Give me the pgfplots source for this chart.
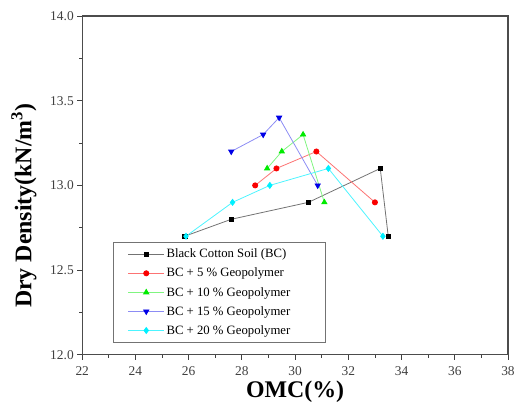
\documentclass[border=0pt]{standalone}
\usepackage{fontspec}
\setmainfont{Liberation Serif}
\usepackage{pgfplots}
\pgfplotsset{compat=1.18}
\definecolor{pgreen}{RGB}{0,235,0}
\definecolor{pblue}{RGB}{0,0,230}
\definecolor{pcyan}{RGB}{0,240,255}
\definecolor{pred}{RGB}{250,0,0}
\begin{document}
\begin{tikzpicture}[x=1pt,y=1pt]
\path (-82.7,-48) rectangle (435.3,357);
\begin{axis}[
  at={(0,0)}, anchor=south west,
  scale only axis, width=428.3pt, height=341pt,
  xmin=22, xmax=38, ymin=12, ymax=14,
  xtick={22,24,...,38}, ytick={12,12.5,...,14},
  minor x tick num=1, minor y tick num=1,
  tick align=outside, xtick pos=bottom, ytick pos=left,
  major tick length=5pt, minor tick length=3pt,
  every tick/.style={black!75, line width=0.8pt},
  axis line style={black!70, line width=1.2pt},
  /pgf/number format/assume math mode=true,
  yticklabel style={/pgf/number format/fixed, /pgf/number format/fixed zerofill, /pgf/number format/precision=1},
  ticklabel style={font=\fontsize{13.5}{16}\selectfont, text=black!75},
  xticklabel style={yshift=-3pt},
  xlabel={\textbf{OMC(\%)}},
  ylabel={\textbf{Dry Density(kN/m\textsuperscript{3})}},
  label style={font=\fontsize{24}{28}\selectfont},
  xlabel style={at={(axis description cs:0.5,-0.11)}, anchor=center},
  ylabel style={at={(axis description cs:-0.137,0.44)}, anchor=center},
  legend style={at={(0.0715,0.035)}, anchor=south west, draw=black!55, line width=0.8pt,
    font=\fontsize{12.8}{15}\selectfont, row sep=4.8pt, inner xsep=15pt, inner ysep=5pt,
    cells={anchor=west}},
  legend image code/.code={\draw[mark repeat=2,mark phase=2,#1] plot coordinates {(0pt,0pt) (18pt,0pt) (36pt,0pt)};},
  every axis plot/.append style={line width=0.8pt},
]
\addplot[color=black!55, mark=square*, mark size=2.3pt, mark options={black, fill=black}]
  coordinates {(25.85,12.7) (27.6,12.8) (30.5,12.9) (33.2,13.1) (33.5,12.7)};
\addlegendentry{Black Cotton Soil (BC)\rule{22pt}{0pt}}
\addplot[color=pred!55, mark=*, mark size=2.6pt, mark options={pred, fill=pred}]
  coordinates {(28.5,13.0) (29.3,13.1) (30.8,13.2) (33.0,12.9)};
\addlegendentry{BC + 5 \% Geopolymer}
\addplot[color=pgreen!50, mark=triangle*, mark size=3pt, mark options={pgreen, fill=pgreen}]
  coordinates {(28.95,13.1) (29.5,13.2) (30.3,13.3) (31.1,12.9)};
\addlegendentry{BC + 10 \% Geopolymer}
\addplot[color=pblue!45, mark=triangle*, mark size=3pt, mark options={pblue, fill=pblue, rotate=180}]
  coordinates {(27.6,13.2) (28.8,13.3) (29.4,13.4) (30.85,13.0)};
\addlegendentry{BC + 15 \% Geopolymer}
\addplot[color=pcyan!70, mark=diamond*, mark size=3pt, mark options={pcyan, fill=pcyan}]
  coordinates {(25.9,12.7) (27.65,12.9) (29.05,13.0) (31.25,13.1) (33.3,12.7)};
\addlegendentry{BC + 20 \% Geopolymer}
\end{axis}
\end{tikzpicture}
\end{document}
